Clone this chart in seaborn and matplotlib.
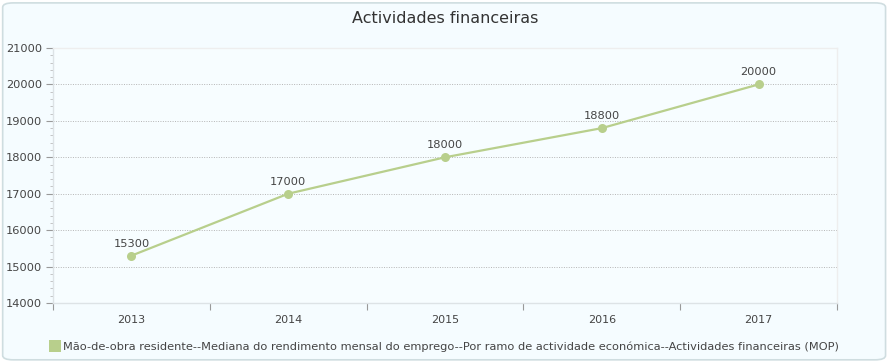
import numpy as np
import pandas as pd
import matplotlib
matplotlib.use('Agg')
import matplotlib.pyplot as plt
from matplotlib.patches import FancyBboxPatch
from matplotlib.ticker import MultipleLocator
import seaborn as sns

# data
years = ['2013', '2014', '2015', '2016', '2017']
values = [15300, 17000, 18000, 18800, 20000]
series_name = ('Mão-de-obra residente--Mediana do rendimento mensal do emprego--'
               'Por ramo de actividade económica--Actividades financeiras (MOP)')
title = 'Actividades financeiras'

line_color = '#b8cf8c'
text_color = '#444444'

sns.set_style('white')
plt.rcParams['font.family'] = ['DejaVu Sans']

df = pd.DataFrame({'pos': np.arange(len(years)), 'value': values})

fig = plt.figure(figsize=(8.9, 3.62), dpi=100)
fig.patch.set_facecolor('white')
frame = FancyBboxPatch((0.003, 0.006), 0.992, 0.986, boxstyle='round,pad=0,rounding_size=0.012',
                       transform=fig.transFigure, facecolor='#f5fcff', edgecolor='#cfdde0',
                       linewidth=1.2, zorder=-10)
fig.patches.append(frame)

ax = fig.add_axes([0.0596, 0.163, 0.8808, 0.7044])
ax.set_facecolor('#f7fdff')

sns.lineplot(data=df, x='pos', y='value', ax=ax, color=line_color, linewidth=1.6,
             marker='o', markersize=6.5, markeredgewidth=0, label=series_name, legend=False)

for x, v in zip(df['pos'], df['value']):
    ax.annotate(f'{v}', (x, v), xytext=(0, 5), textcoords='offset points',
                ha='center', va='bottom', fontsize=8.2, color=text_color)

ax.set_xlim(-0.5, len(years) - 0.5)
ax.set_ylim(14000, 21000)
ax.set_xticks(np.arange(-0.5, len(years), 1))
ax.set_xticklabels([])
ax.set_xticks(np.arange(len(years)), minor=True)
ax.set_xticklabels(years, minor=True)
ax.tick_params(axis='x', which='major', length=5, color='#999999', direction='out', bottom=True)
ax.tick_params(axis='x', which='minor', length=0, pad=9, labelsize=8, labelcolor=text_color)

ax.yaxis.set_major_locator(MultipleLocator(1000))
ax.yaxis.set_minor_locator(MultipleLocator(200))
ax.tick_params(axis='y', which='major', length=5, color='#999999', labelsize=8.2,
               labelcolor=text_color, left=True, pad=3)
ax.tick_params(axis='y', which='minor', length=2, color='#bbbbbb', left=True)

ax.grid(axis='y', which='major', linestyle=(0, (1, 1.5)), color='#b5b5b5', linewidth=0.7)
for s in ['top', 'right']:
    ax.spines[s].set_color('#eeeeee')
    ax.spines[s].set_linewidth(1)
for s in ['left', 'bottom']:
    ax.spines[s].set_color('#dde3e6')
    ax.spines[s].set_linewidth(1)
ax.set_xlabel('')
ax.set_ylabel('')

fig.text(0.5, 0.948, title, ha='center', va='center', fontsize=11.5, color='#333333')

handle = plt.Line2D([], [], marker='s', linestyle='none', markersize=9,
                    markerfacecolor=line_color, markeredgewidth=0)
fig.legend([handle], [series_name], loc='center left', bbox_to_anchor=(0.05, 0.042),
           frameon=False, fontsize=8.2, labelcolor=text_color, handletextpad=0.2,
           borderaxespad=0, handlelength=1)

fig.savefig('out.png', dpi=100, facecolor=fig.get_facecolor())
